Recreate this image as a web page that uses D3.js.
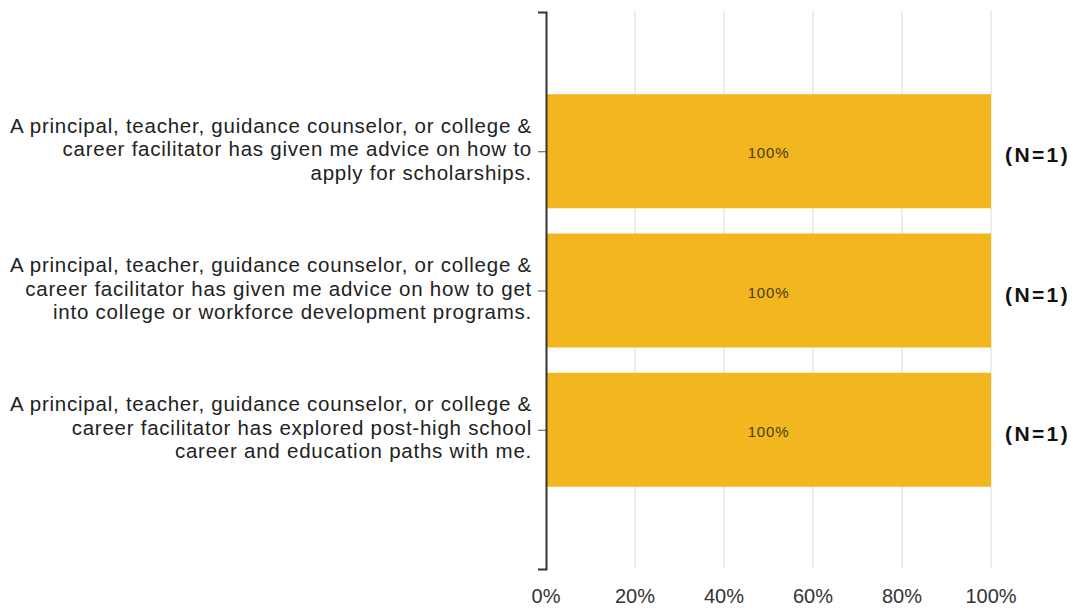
<!DOCTYPE html>
<html><head><meta charset="utf-8">
<script src="https://cdn.jsdelivr.net/npm/d3@7"></script>
<style>body{margin:0;background:#fff}svg{display:block}</style>
</head><body>
<svg id="c" width="1073" height="610"></svg>
<script>
const categories = [
  ["A principal, teacher, guidance counselor, or college &", "career facilitator has given me advice on how to", "apply for scholarships."],
  ["A principal, teacher, guidance counselor, or college &", "career facilitator has given me advice on how to get", "into college or workforce development programs."],
  ["A principal, teacher, guidance counselor, or college &", "career facilitator has explored post-high school", "career and education paths with me."]
];
const values = [100, 100, 100];
const nLabels = ["(N=1)", "(N=1)", "(N=1)"];
const xTicks = [0, 20, 40, 60, 80, 100];

const svg = d3.select("#c");
const x = d3.scaleLinear().domain([0, 100]).range([546, 991]);
const y = d3.scalePoint().domain(d3.range(categories.length)).range([12, 569]).padding(1);
const bh = 114;
const font = "'Liberation Sans', Arial, sans-serif";

// gridlines
svg.append("g").selectAll("line").data(xTicks.filter(d => d > 0)).join("line")
  .attr("x1", d => x(d)).attr("x2", d => x(d)).attr("y1", 11).attr("y2", 568)
  .attr("stroke", "#d9d9d9").attr("stroke-width", 1);

// bars
svg.append("g").selectAll("rect").data(values).join("rect")
  .attr("x", x(0)).attr("width", d => x(d) - x(0))
  .attr("y", (d, i) => y(i) - bh / 2).attr("height", bh)
  .attr("fill", "#F2B71E");

// value labels
svg.append("g").selectAll("text").data(values).join("text")
  .attr("x", d => (x(0) + x(d)) / 2).attr("y", (d, i) => y(i) + 7)
  .attr("text-anchor", "middle").attr("font-family", font).attr("font-size", 15)
  .attr("letter-spacing", 0.8)
  .attr("fill", "#4a3a10").text(d => d + "%");

// N labels
svg.append("g").selectAll("text").data(nLabels).join("text")
  .attr("x", 1005).attr("y", (d, i) => y(i) + 11)
  .attr("font-family", font).attr("font-size", 21).attr("font-weight", "bold")
  .attr("letter-spacing", 2.4)
  .attr("fill", "#111").text(d => d);

// y axis
const yAxis = d3.axisLeft(y).tickSize(8).tickSizeOuter(8).tickFormat("");
const yg = svg.append("g").attr("transform", "translate(546,0)").call(yAxis);
yg.select(".domain").attr("stroke", "#333").attr("stroke-width", 2);
yg.selectAll(".tick line").attr("stroke", "#555").attr("stroke-width", 1);

// category labels
const lab = svg.append("g");
categories.forEach((lines, i) => {
  const t = lab.append("text").attr("text-anchor", "end")
    .attr("font-family", font).attr("font-size", 20.5).attr("fill", "#222")
    .attr("letter-spacing", 0.76);
  lines.forEach((ln, j) => {
    t.append("tspan").attr("x", 532).attr("y", y(i) + (j - 1) * 23.5 + 5).text(ln);
  });
});

// x tick labels
svg.append("g").selectAll("text").data(xTicks).join("text")
  .attr("x", d => x(d)).attr("y", 603).attr("text-anchor", "middle")
  .attr("font-family", font).attr("font-size", 20).attr("fill", "#333")
  .text(d => d + "%");
</script>
</body></html>
